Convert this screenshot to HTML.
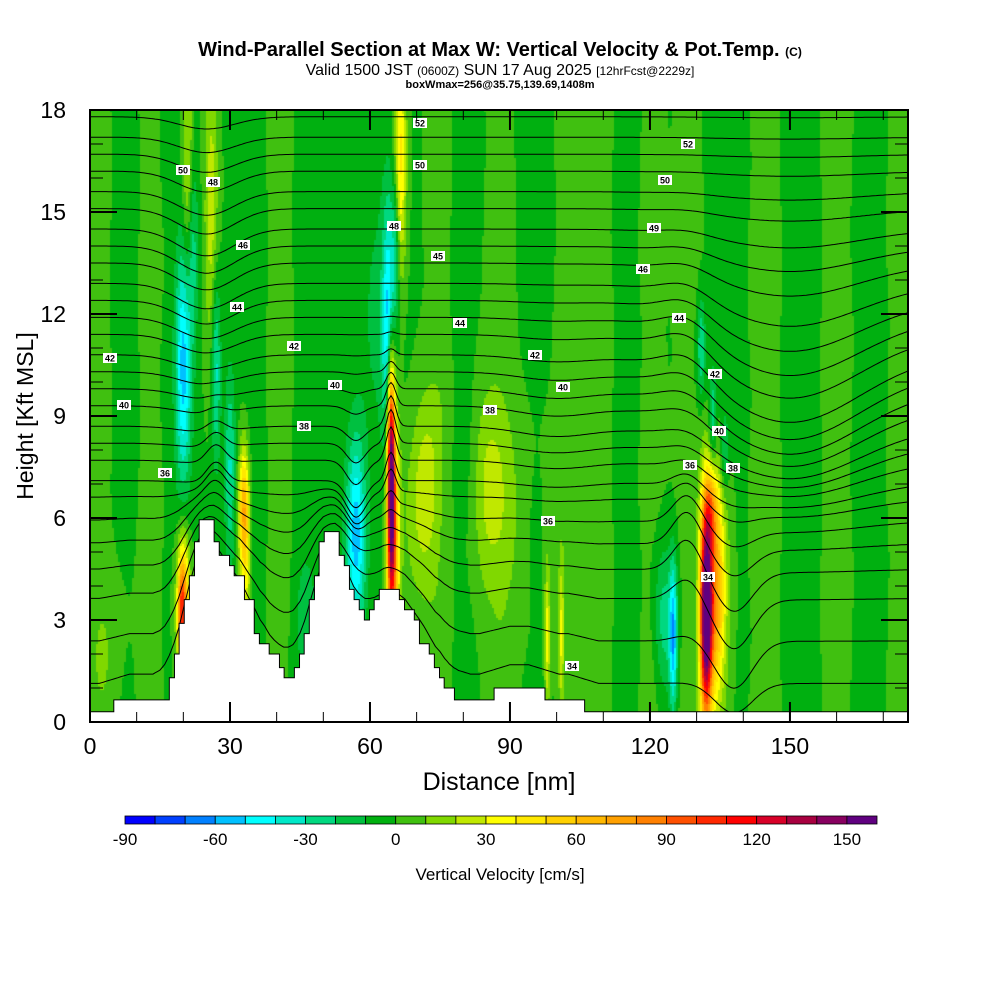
<!DOCTYPE html>
<html><head><meta charset="utf-8"><style>
body{margin:0;background:#fff;width:1000px;height:1000px;overflow:hidden;font-family:"Liberation Sans",sans-serif}
#wrap{position:relative;width:1000px;height:1000px}
canvas{position:absolute;left:90px;top:110px}
svg{position:absolute;left:0;top:0}
</style></head><body><div id="wrap">
<canvas id="field" width="818" height="612"></canvas>
<svg id="svg" width="1000" height="1000"></svg>
</div>
<script>
// ---- data ----
const cbColors=["#0000ff","#0040ff","#0080ff","#00c0ff","#00ffff","#00e8c8","#00d880","#00c040","#00b010","#40c010","#80d800","#c0e800","#ffff00","#ffe800","#ffd000","#ffb800","#ffa000","#ff8000","#ff5000","#ff2800","#ff0000","#d80028","#a80040","#880060","#600080"];
const cbTicks=[-90,-60,-30,0,30,60,90,120,150];
const xTicks=[0,30,60,90,120,150];
const yTicks=[0,3,6,9,12,15,18];
const terrX=[0,5.1,17,18.1,19.1,20.2,21.3,22.4,23.4,26.6,27.7,29.9,30.9,33.1,35.2,36.3,38.4,40.6,41.6,43.8,44.9,45.9,47,48.1,49.1,50.2,53.4,54.5,55.6,56.6,57.7,58.8,59.9,60.9,62,66.3,67.4,69.5,70.6,72.7,73.8,74.9,75.9,78.1,86.6,97.5,106];
const terrH=[0.3,0.65,1.3,2.0,2.9,3.6,4.3,5.3,5.95,5.3,4.9,4.6,4.3,3.6,2.6,2.3,2.0,1.6,1.3,1.6,2.0,2.6,3.6,4.3,5.3,5.6,4.9,4.6,3.9,3.6,3.3,3.0,3.3,3.6,3.9,3.6,3.3,3.0,2.3,2.0,1.6,1.3,1.0,0.65,1.0,0.65,0.3];
const featX=[21,20,22,26,27,20,19.5,33,33.5,30,46,57,64.5,65,64,66.5,65.5,62,70,72,85,98,101,125,123,132,134,133,131,133.5,136,5,90];
const featH=[16,10.5,14,15,10.5,3.5,3.0,6.2,4,7.5,3,5.5,7.4,5,11.5,16.5,14,12,6,7,7,2.5,2.5,2.5,3,3.2,3.8,6.2,11,9,8,2,6];
const featSX=[0.8,1.2,0.8,1,0.7,0.9,0.5,0.8,0.8,0.8,1.5,1.5,0.6,0.9,0.9,0.9,0.6,3,3,2,2,0.4,0.4,0.6,1.5,0.9,1.6,1,0.6,0.6,0.6,4,6];
const featSH=[2.5,2.5,2,3,2,1.3,1.0,1.3,1.2,2,1.5,2,2.5,3,2.5,2.5,1.5,3,2,2,2,1.5,1.5,1.5,1.5,2.2,2.3,0.8,1,1,0.8,2,3];
const featAmp=[28,-55,-25,28,-35,85,40,75,25,-30,-15,-55,145,70,-55,45,-25,-12,12,18,15,35,30,-55,-25,165,75,40,-30,-30,-25,8,10];
const streakX=[2,8,12,35,40,50,75,80,88,95,103,110,115,120,128,145,152,160,168,173];
const streakAmp=[6,-7,6,-8,7,-6,8,-6,9,-7,8,6,-7,7,6,8,-8,7,-6,6];
const thetaRef=[0.9,2.2,3.5,4.4,5.2,5.9,6.6,7.1,7.7,8.2,8.7,9.3,9.8,10.3,10.8,11.4,11.9,12.4,12.9,13.5,14.0,14.5,15.1,15.6,16.2,16.7,17.2,17.8];
const dispX=[150,128,128,138,64.5,57,27,25,100];
const dispH=[10.5,11,5,3,8,7,7,14,9];
const dispSX=[15,5,3,4,1,2,2,6,8];
const dispSH=[2.5,2,1.5,2,1.5,1.5,1.5,3,2];
const dispAmp=[-2,0.6,1,-1.5,1,-0.8,0.6,-0.8,-0.3];
const labText=["42","40","36","50","48","46","44","42","40","38","48","52","50","45","44","38","42","40","36","34","52","50","49","46","44","42","40","38","36","34"];
const labPX=[110,124,165,183,213,243,237,294,335,304,394,420,420,438,460,490,535,563,548,572,688,665,654,643,679,715,719,733,690,708];
const labPY=[358,405,473,170,182,245,307,346,385,426,226,123,165,256,323,410,355,387,521,666,144,180,228,269,318,374,431,468,465,577];
// ---- scales ----
const XMAX=175.3;
const sx=x=>90+x*(818/XMAX);
const sy=h=>722-h*34;
function terr(x){let h=terrH[0];for(let i=0;i<terrX.length;i++){if(x>=terrX[i])h=terrH[i];}return h;}
function field(x,h){
  let v=-1;
  for(let i=0;i<streakX.length;i++){const d=x-streakX[i];v+=streakAmp[i]*Math.exp(-d*d/8)*(0.75+0.25*Math.sin(h*0.9+i));}
  for(let i=0;i<featX.length;i++){const dx=(x-featX[i])/featSX[i],dh=(h-featH[i])/featSH[i];v+=featAmp[i]*Math.exp(-(dx*dx+dh*dh)/2);}
  return v;
}
function col(v){let i=Math.floor((v+90)/10);if(i<0)i=0;if(i>24)i=24;return cbColors[i];}
// ---- draw field ----
const ctx=document.getElementById('field').getContext('2d');
for(let px=0;px<818;px+=2){for(let py=0;py<612;py+=2){const x=(px+1)*XMAX/818,h=(611-py)/34;ctx.fillStyle=col(field(x,h));ctx.fillRect(px,py,2,2);}}
const NS="http://www.w3.org/2000/svg";
const svg=document.getElementById('svg');
function mk(tag,attrs,parent){const e=document.createElementNS(NS,tag);for(const k in attrs)e.setAttribute(k,attrs[k]);(parent||svg).appendChild(e);return e;}
function txt(s,attrs,parent){const e=mk('text',attrs,parent);e.textContent=s;return e;}
const defs=mk('defs',{});const cp=mk('clipPath',{id:'pc'},defs);mk('rect',{x:90,y:110,width:818,height:612},cp);
// ---- contours ----
const cg=mk('g',{'clip-path':'url(#pc)'});


function tsm(x){let s=0,n=0;for(let d=-3;d<=3;d+=0.5){s+=terr(Math.min(XMAX,Math.max(0,x+d)));n++;}return s/n;}
thetaRef.forEach((hr,k)=>{
  let pts=[];
  for(let x=0;x<=XMAX+0.5;x+=0.5){
    let h=hr+tsm(x)*Math.max(0,1-hr/7)*0.9;
    for(let i=0;i<dispX.length;i++){const dx=(x-dispX[i])/dispSX[i],dh=(hr-dispH[i])/dispSH[i];h+=dispAmp[i]*Math.exp(-(dx*dx+dh*dh)/2);}
    pts.push(sx(x).toFixed(1)+','+sy(h).toFixed(1));
  }
  const p=mk('polyline',{points:pts.join(' '),fill:'none',stroke:'#000','stroke-width':1},cg);
  
  
});
// ---- terrain ----
let tp=[sx(0)+','+sy(0)];
for(let i=0;i<terrX.length;i++){const x0=terrX[i],x1=i+1<terrX.length?terrX[i+1]:XMAX;tp.push(sx(x0)+','+sy(terrH[i]));tp.push(sx(x1)+','+sy(terrH[i]));}
tp.push(sx(XMAX)+','+sy(0));
const tpoly=mk('polygon',{points:tp.join(' '),fill:'#fff',stroke:'#000','stroke-width':1});


// ---- contour labels ----
labText.forEach((t,i)=>{
  const g=mk('g',{});
  
  
  mk('rect',{x:labPX[i]-7,y:labPY[i]-5,width:14,height:10,fill:'#fff'},g);
  txt(t,{x:labPX[i],y:labPY[i]+3.5,'font-size':9,'font-weight':'bold','text-anchor':'middle'},g);
});
// ---- frame & ticks ----
const fr=mk('rect',{x:90,y:110,width:818,height:612,fill:'none',stroke:'#000','stroke-width':2});


const tg=mk('g',{stroke:'#000'});


for(let h=1;h<18;h++){const L=h%3===0?27:13,w=h%3===0?2:1;mk('line',{x1:90,x2:90+L,y1:sy(h),y2:sy(h),'stroke-width':w},tg);mk('line',{x1:908,x2:908-L,y1:sy(h),y2:sy(h),'stroke-width':w},tg);}
for(let x=10;x<XMAX;x+=10){const L=x%30===0?20:10,w=x%30===0?2:1;mk('line',{x1:sx(x),x2:sx(x),y1:722,y2:722-L,'stroke-width':w},tg);mk('line',{x1:sx(x),x2:sx(x),y1:110,y2:110+L,'stroke-width':w},tg);}
yTicks.forEach(v=>{const t=txt(String(v),{x:66,y:sy(v)+8,'font-size':23,'text-anchor':'end'});});
xTicks.forEach(v=>{const t=txt(String(v),{x:sx(v),y:754,'font-size':23,'text-anchor':'middle'});});
const xt=txt('Distance [nm]',{x:499,y:790,'font-size':25,'text-anchor':'middle'});

const yt=txt('Height [Kft MSL]',{x:0,y:0,'font-size':23,'text-anchor':'middle',transform:'translate(33,416) rotate(-90)'});

// ---- titles ----
const t1=txt('',{x:500,y:56,'font-size':20,'font-weight':'bold','text-anchor':'middle'});

t1.innerHTML='Wind-Parallel Section at Max W: Vertical Velocity &amp; Pot.Temp. <tspan font-size="12">(C)</tspan>';
const t2=txt('',{x:500,y:75,'font-size':16,'text-anchor':'middle'});

t2.innerHTML='Valid 1500 JST <tspan font-size="12">(0600Z)</tspan> SUN 17 Aug 2025 <tspan font-size="12">[12hrFcst@2229z]</tspan>';
const t3=txt('boxWmax=256@35.75,139.69,1408m',{x:500,y:88,'font-size':11,'font-weight':'bold','text-anchor':'middle'});

// ---- colorbar ----
const cbg=mk('g',{});


const cbW=(877-125)/25;
cbColors.forEach((c,i)=>{mk('rect',{x:125+i*cbW,y:816,width:cbW,height:8,fill:c,stroke:'#000','stroke-width':0.8},cbg);});
cbTicks.forEach(v=>{const t=txt(String(v),{x:125+(v+90)/10*cbW,y:845,'font-size':17,'text-anchor':'middle'},cbg);});
const cbt=txt('Vertical Velocity [cm/s]',{x:500,y:880,'font-size':17,'text-anchor':'middle'});

</script></body></html>
